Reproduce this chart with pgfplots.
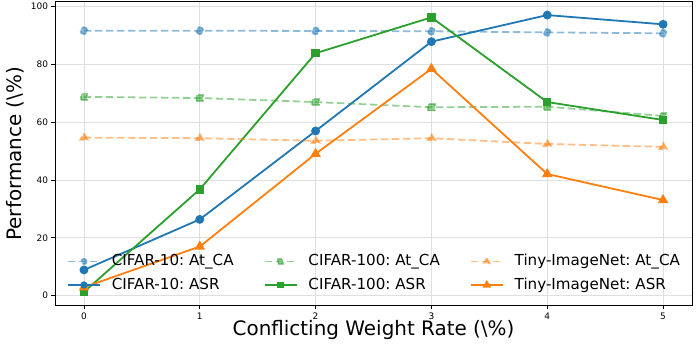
\documentclass[border=0pt]{standalone}
\usepackage{pgfplots}
\pgfplotsset{compat=1.18}
\usepackage{fontspec}
\setmainfont{DejaVu Sans}
\frenchspacing
\definecolor{tabblue}{HTML}{1F77B4}
\definecolor{taborange}{HTML}{FF7F0E}
\definecolor{tabgreen}{HTML}{2CA02C}

\tikzset{
  ca/.style={line width=1.8bp, dash pattern=on 7.5bp off 3.5bp, opacity=0.5},
  asr/.style={line width=1.8bp, solid},
}

\begin{document}
\begin{tikzpicture}
\begin{axis}[
  at={(0,0)}, anchor=south west,
  scale only axis,
  width=637bp, height=304bp,
  xmin=-0.25, xmax=5.25,
  ymin=-3.46, ymax=101.73,
  xtick={0,1,2,3,4,5},
  ytick={0,20,40,60,80,100},
  tick pos=left,
  tick align=outside,
  major tick length=3.5bp,
  every tick/.style={black, line width=0.8bp},
  axis line style={black, line width=0.8bp},
  grid=major,
  major grid style={gray!25, line width=0.8bp},
  /pgf/number format/assume math mode=true,
  tick label style={font=\fontsize{9}{10}\selectfont},
  xlabel={Conflicting Weight Rate (\textbackslash\%)},
  ylabel={Performance (\textbackslash\%)},
  label style={font=\fontsize{20}{24}\selectfont},
  xlabel style={at={(axis description cs:0.5,-0.079)}, anchor=center},
  ylabel style={at={(axis description cs:-0.0628,0.5)}, anchor=center},
  legend columns=3,
  legend style={draw=none, fill=none, font=\fontsize{15.2}{18}\selectfont,
    at={(axis description cs:0.5,0.037)}, anchor=south,
    nodes={inner xsep=0bp, inner ysep=0bp, text height=11.5bp, text depth=3bp},
    /tikz/every odd column/.append style={column sep=11bp},
    /tikz/every even column/.append style={column sep=30bp},
    row sep=9bp},
  legend cell align=left,
  legend image code/.code={\draw[mark repeat=2, mark phase=2, #1] plot coordinates {(0bp,0bp) (16bp,0bp) (32bp,0bp)};},
]
% legend in row order
\addlegendimage{ca, color=tabblue, mark=*, mark size=2.7bp}
\addlegendentry{CIFAR-10: At\_CA}
\addlegendimage{ca, color=tabgreen, mark=square*, mark size=2.5bp}
\addlegendentry{CIFAR-100: At\_CA}
\addlegendimage{ca, color=taborange, mark=triangle*, mark size=3.2bp}
\addlegendentry{Tiny-ImageNet: At\_CA}
\addlegendimage{asr, color=tabblue, mark=*, mark size=2.7bp}
\addlegendentry{CIFAR-10: ASR}
\addlegendimage{asr, color=tabgreen, mark=square*, mark size=2.5bp}
\addlegendentry{CIFAR-100: ASR}
\addlegendimage{asr, color=taborange, mark=triangle*, mark size=3.2bp}
\addlegendentry{Tiny-ImageNet: ASR}

% CIFAR-10
\addplot[ca, color=tabblue, mark=*, mark size=3.5bp, forget plot] coordinates {
  (0,91.7) (1,91.7) (2,91.6) (3,91.5) (4,91.1) (5,90.8)};
\addplot[asr, color=tabblue, mark=*, mark size=3.5bp, forget plot] coordinates {
  (0,8.9) (1,26.4) (2,57.0) (3,87.9) (4,97.1) (5,93.9)};
% CIFAR-100
\addplot[ca, color=tabgreen, mark=square*, mark size=3.3bp, forget plot] coordinates {
  (0,68.8) (1,68.4) (2,67.0) (3,65.2) (4,65.4) (5,62.2)};
\addplot[asr, color=tabgreen, mark=square*, mark size=3.3bp, forget plot] coordinates {
  (0,1.3) (1,36.8) (2,83.9) (3,96.3) (4,67.0) (5,60.8)};
% Tiny-ImageNet
\addplot[ca, color=taborange, mark=triangle*, mark size=4.3bp, forget plot] coordinates {
  (0,54.7) (1,54.5) (2,53.6) (3,54.5) (4,52.5) (5,51.5)};
\addplot[asr, color=taborange, mark=triangle*, mark size=4.3bp, forget plot] coordinates {
  (0,2.9) (1,17.0) (2,49.1) (3,78.5) (4,42.1) (5,33.1)};
\end{axis}
\pgfresetboundingbox
\path (-55bp,-41.3bp) rectangle (643bp,305.7bp);
\end{tikzpicture}
\end{document}
